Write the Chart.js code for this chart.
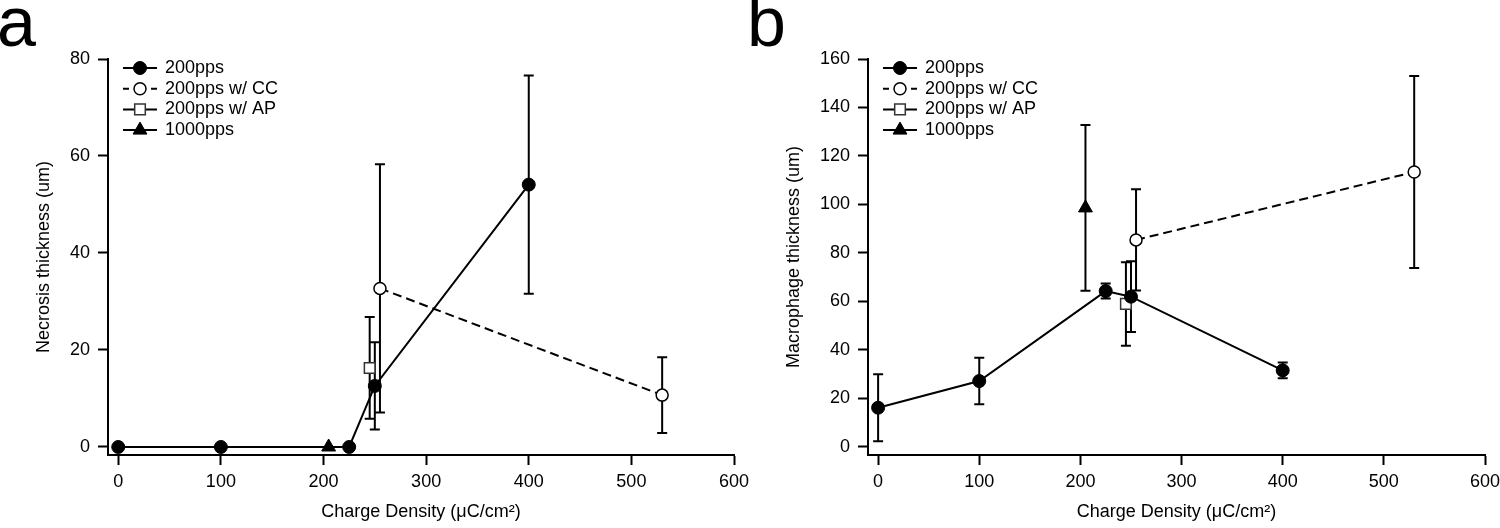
<!DOCTYPE html>
<html>
<head>
<meta charset="utf-8">
<script src="https://cdn.jsdelivr.net/npm/chart.js@4.4.1/dist/chart.umd.min.js"></script>
<style>
  body { margin: 0; background: #fff; }
  .wrap { display: flex; width: 1500px; height: 528px; }
  canvas { display: block; }
</style>
</head>
<body>
<div class="wrap">
  <canvas id="necrosis" width="750" height="528"></canvas>
  <canvas id="macrophage" width="750" height="528"></canvas>
</div>
<script>
// axis ticks
const xTicks = [0, 100, 200, 300, 400, 500, 600];
const necrosisTicks = [0, 20, 40, 60, 80];
const macrophageTicks = [0, 20, 40, 60, 80, 100, 120, 140, 160];

const seriesNames = ['200pps', '200pps w/ CC', '200pps w/ AP', '1000pps'];

// panel a: necrosis thickness (um), +/- error
const necX200 = [0, 100, 225, 250, 400];
const necY200 = [0, 0, 0, 12.6, 54.1];
const necE200 = [0, 0, 0, 9, 22.5];
const necXCC = [255, 530];
const necYCC = [32.7, 10.7];
const necECC = [25.6, 7.8];
const necXAP = [245];
const necYAP = [16.3];
const necEAP = [10.5];
const necX1000 = [205];
const necY1000 = [0];
const necE1000 = [0];

// panel b: macrophage thickness (um), +/- error
const macX200 = [0, 100, 225, 250, 400];
const macY200 = [16.2, 27.2, 64.3, 62, 31.6];
const macE200 = [13.8, 9.6, 3.1, 14.6, 3.2];
const macXCC = [255, 530];
const macYCC = [85.4, 113.4];
const macECC = [20.9, 39.6];
const macXAP = [245];
const macYAP = [59];
const macEAP = [17.2];
const macX1000 = [205];
const macY1000 = [98.6];
const macE1000 = [34.2];

const FONT = '"Liberation Sans", Arial, Helvetica, sans-serif';

// marker / line look for each series, same order as seriesNames
const looks = [
  { pointStyle: 'circle', pointRadius: 6.5, pointBackgroundColor: '#000', pointBorderColor: '#000', pointBorderWidth: 1, showLine: true, borderDash: [] },
  { pointStyle: 'circle', pointRadius: 6, pointBackgroundColor: '#fff', pointBorderColor: '#000', pointBorderWidth: 1.5, showLine: true, borderDash: [9, 5] },
  { pointStyle: 'rect', pointRadius: 7.5, pointBackgroundColor: '#fff', pointBorderColor: '#333', pointBorderWidth: 1.5, showLine: false, borderDash: [] },
  { pointStyle: 'triangle', pointRadius: 8, pointBackgroundColor: '#000', pointBorderColor: '#000', pointBorderWidth: 1, showLine: false, borderDash: [] },
];

function makeDataset(i, xs, ys, errs) {
  return Object.assign({
    label: seriesNames[i],
    data: xs.map((x, k) => ({ x: x, y: ys[k] })),
    err: errs,
    borderColor: '#000',
    borderWidth: 2,
    pointHoverRadius: 0,
  }, looks[i]);
}

// vertical error bars with caps, under the markers
const errorBars = {
  id: 'errorBars',
  beforeDatasetsDraw(chart) {
    const { ctx } = chart;
    const xs = chart.scales.x, ys = chart.scales.y;
    ctx.save();
    ctx.strokeStyle = '#000';
    ctx.lineWidth = 2;
    chart.data.datasets.forEach(ds => {
      ds.data.forEach((p, i) => {
        const e = ds.err[i];
        if (!e) return;
        const px = xs.getPixelForValue(p.x);
        const top = ys.getPixelForValue(p.y + e);
        const bot = ys.getPixelForValue(p.y - e);
        ctx.beginPath();
        ctx.moveTo(px, top); ctx.lineTo(px, bot);
        ctx.moveTo(px - 5, top); ctx.lineTo(px + 5, top);
        ctx.moveTo(px - 5, bot); ctx.lineTo(px + 5, bot);
        ctx.stroke();
      });
    });
    ctx.restore();
  }
};

// Igor-style legend inside the plot + panel letter
const panelLegend = {
  id: 'panelLegend',
  afterDraw(chart, args, opts) {
    const { ctx, chartArea } = chart;
    const x0 = chartArea.left + 15, x1 = x0 + 34;
    chart.data.datasets.forEach((ds, i) => {
      const yy = 68 + i * 20.7;
      ctx.save();
      ctx.strokeStyle = '#000';
      ctx.lineWidth = 2;
      ctx.beginPath();
      if (ds.borderDash.length) {
        ctx.moveTo(x0, yy); ctx.lineTo(x0 + 6, yy);
        ctx.moveTo(x1 - 6, yy); ctx.lineTo(x1, yy);
      } else {
        ctx.moveTo(x0, yy); ctx.lineTo(x1, yy);
      }
      ctx.stroke();
      ctx.fillStyle = ds.pointBackgroundColor;
      ctx.strokeStyle = ds.pointBorderColor;
      ctx.lineWidth = ds.pointBorderWidth;
      Chart.helpers.drawPoint(ctx, { pointStyle: ds.pointStyle, radius: ds.pointRadius, borderWidth: ds.pointBorderWidth, rotation: 0 }, (x0 + x1) / 2, yy);
      ctx.fillStyle = '#000';
      ctx.font = '18px ' + FONT;
      ctx.textBaseline = 'middle';
      ctx.textAlign = 'left';
      ctx.fillText(ds.label, x1 + 8, yy);
      ctx.restore();
    });
    ctx.save();
    ctx.fillStyle = '#000';
    ctx.font = '70px ' + FONT;
    ctx.textBaseline = 'alphabetic';
    ctx.fillText(opts.letter, -3, 46);
    ctx.restore();
  }
};

function makeOptions(letter, yTicks, yMin, yMax, yTitle, yWidth, padRight) {
  const font = { family: FONT, size: 18 };
  const grid = { drawOnChartArea: false, drawTicks: true, tickLength: 10, tickWidth: 2, tickColor: '#000' };
  const border = { display: true, color: '#000', width: 2 };
  return {
    responsive: false,
    animation: false,
    events: [],
    layout: { padding: { top: 59, right: padRight, bottom: 0, left: 0 } },
    plugins: { legend: { display: false }, tooltip: { enabled: false }, panelLegend: { letter: letter } },
    scales: {
      x: {
        type: 'linear', min: -10, max: 600,
        afterBuildTicks: s => { s.ticks = xTicks.map(v => ({ value: v })); },
        afterFit: s => { s.height = 73; s.paddingLeft = 0; s.paddingRight = 0; },
        grid: grid, border: border,
        ticks: { color: '#000', font: font, padding: 6, maxRotation: 0, autoSkip: false },
        title: { display: true, text: 'Charge Density (μC/cm²)', color: '#000', font: font, padding: { top: 0, bottom: 5 } }
      },
      y: {
        type: 'linear', min: yMin, max: yMax,
        afterBuildTicks: s => { s.ticks = yTicks.map(v => ({ value: v })); },
        afterFit: s => { s.width = yWidth; s.paddingTop = 0; s.paddingBottom = 0; },
        grid: grid, border: border,
        ticks: { color: '#000', font: font, padding: 8, autoSkip: false },
        title: { display: true, text: yTitle, color: '#000', font: font, padding: { top: 33, bottom: 0 } }
      }
    }
  };
}

new Chart(document.getElementById('necrosis'), {
  type: 'scatter',
  data: {
    datasets: [
      makeDataset(0, necX200, necY200, necE200),
      makeDataset(1, necXCC, necYCC, necECC),
      makeDataset(2, necXAP, necYAP, necEAP),
      makeDataset(3, necX1000, necY1000, necE1000),
    ]
  },
  options: makeOptions('a', necrosisTicks, -1.65, 80, 'Necrosis thickness (um)', 108, 16),
  plugins: [errorBars, panelLegend]
});

new Chart(document.getElementById('macrophage'), {
  type: 'scatter',
  data: {
    datasets: [
      makeDataset(0, macX200, macY200, macE200),
      makeDataset(1, macXCC, macYCC, macECC),
      makeDataset(2, macXAP, macYAP, macEAP),
      makeDataset(3, macX1000, macY1000, macE1000),
    ]
  },
  options: makeOptions('b', macrophageTicks, -3.3, 160, 'Macrophage thickness (um)', 118, 15),
  plugins: [errorBars, panelLegend]
});
</script>
</body>
</html>
